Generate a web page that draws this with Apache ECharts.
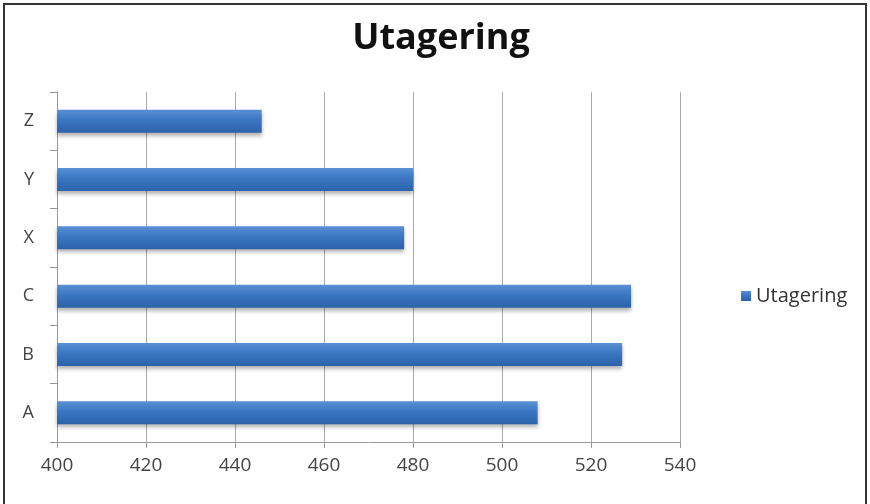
<!DOCTYPE html>
<html>
<head>
<meta charset="utf-8">
<script src="https://cdn.jsdelivr.net/npm/echarts@6/dist/echarts.min.js"></script>
<style>
  html, body { margin: 0; padding: 0; background: #fff; }
  #chart { width: 870px; height: 504px; }
</style>
</head>
<body>
<div id="chart"></div>
<script>
// data
var categories = ['A', 'B', 'C', 'X', 'Y', 'Z'];
var values = [508, 527, 529, 478, 480, 446];
var seriesName = 'Utagering';

var chart = echarts.init(document.getElementById('chart'));

var barColor = new echarts.graphic.LinearGradient(0, 0, 0, 1, [
    { offset: 0, color: '#5a90d6' },
    { offset: 0.45, color: '#3a76c2' },
    { offset: 1, color: '#2c62aa' }
]);

var option = {
    backgroundColor: '#fff',
    animation: false,
    title: {
        text: 'Utagering',
        left: 436,
        textAlign: 'center',
        top: 16,
        textStyle: { fontFamily: 'Open Sans', fontWeight: 'bold', fontSize: 36, color: '#111' }
    },
    legend: {
        data: [seriesName],
        orient: 'vertical',
        left: 736,
        top: 281,
        itemWidth: 10,
        itemHeight: 10,
        itemGap: 5,
        icon: 'rect',
        textStyle: { fontFamily: 'Open Sans', fontSize: 20, color: '#333' }
    },
    grid: { left: 57, right: 190, top: 92, bottom: 62 },
    xAxis: {
        type: 'value',
        min: 400,
        max: 540,
        interval: 20,
        axisLine: { show: true, lineStyle: { color: '#999', width: 1 } },
        axisTick: { show: true, length: 6, lineStyle: { color: '#999' } },
        axisLabel: { fontFamily: 'Open Sans', fontSize: 19, color: '#444', margin: 14 },
        splitLine: { show: true, lineStyle: { color: '#aaa', width: 1 } }
    },
    yAxis: {
        type: 'category',
        data: categories,
        axisLine: { show: true, lineStyle: { color: '#999', width: 1 } },
        axisTick: { show: true, length: 7, lineStyle: { color: '#999' } },
        axisLabel: { fontFamily: 'Open Sans', fontSize: 18, color: '#444', margin: 23 }
    },
    series: [{
        name: seriesName,
        type: 'bar',
        data: values,
        barWidth: 23,
        itemStyle: {
            color: barColor,
            shadowColor: 'rgba(0,0,0,0.3)',
            shadowBlur: 4,
            shadowOffsetY: 3
        }
    }],
    graphic: [{
        type: 'rect',
        shape: { x: 4, y: 4, width: 862, height: 520 },
        style: { fill: null, stroke: '#333', lineWidth: 2 },
        silent: true
    }]
};

chart.setOption(option);
</script>
</body>
</html>
